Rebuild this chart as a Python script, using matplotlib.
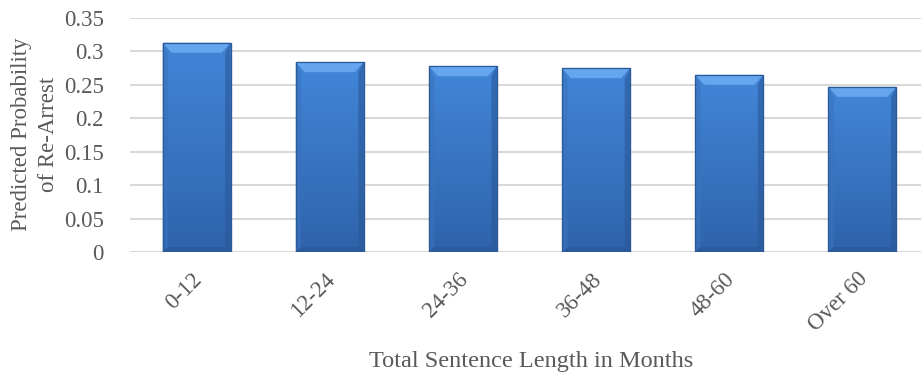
import numpy as np
import matplotlib
matplotlib.use("Agg")
import matplotlib.pyplot as plt
import matplotlib.transforms as mtransforms
from matplotlib.patches import Polygon

# predicted probability of re-arrest by sentence length
categories = ["0-12", "12-24", "24-36", "36-48", "48-60", "Over 60"]
probs = [0.313, 0.284, 0.278, 0.275, 0.265, 0.247]
yticks = [0, 0.05, 0.1, 0.15, 0.2, 0.25, 0.3, 0.35]
ytick_labels = ["0", "0.05", "0.1", "0.15", "0.2", "0.25", "0.3", "0.35"]

txt_color = "#595959"
plt.rcParams["font.family"] = ["Liberation Serif", "DejaVu Serif"]

fig = plt.figure(figsize=(9.21, 3.79), dpi=100)
W, H = 921, 379
ax = fig.add_axes([130 / W, (H - 252) / H, (929 - 130) / W, (252 - 18) / H])

x = np.arange(len(categories))
bars = ax.bar(x, probs, width=0.51, color="#3a78c8", edgecolor="#2b5a96",
              linewidth=0.8, zorder=3)

ax.set_xlim(-0.5, len(categories) - 0.5)
ax.set_ylim(0, 0.35)

# bevel sizes in data units
px_x = (929 - 130) / len(categories)
px_y = (252 - 18) / 0.35
bx = 9 / px_x
by = 10 / px_y
top_c = np.array([0x42, 0x86, 0xd8]) / 255
bot_c = np.array([0x2f, 0x63, 0xab]) / 255
for b in bars:
    x0, w, h = b.get_x(), b.get_width(), b.get_height()
    t = np.linspace(0, 1, 80)[:, None]
    body = bot_c + (top_c - bot_c) * t
    body = body[:, None, :] * np.ones((1, 2, 1))
    im = ax.imshow(body, extent=(x0, x0 + w, 0, h), aspect="auto",
                   zorder=3.1, origin="lower")
    im.set_clip_path(b)
    top = Polygon([(x0, h), (x0 + w, h), (x0 + w - bx, h - by), (x0 + bx, h - by)],
                  closed=True, facecolor="#66a6ee", edgecolor="none", zorder=3.3)
    left = Polygon([(x0, h), (x0 + bx * 0.6, h - by), (x0 + bx * 0.6, by * 0.5), (x0, 0)],
                   closed=True, facecolor="#3a73bd", edgecolor="none", alpha=0.6, zorder=3.2)
    right = Polygon([(x0 + w, h), (x0 + w - bx * 0.6, h - by), (x0 + w - bx * 0.6, by * 0.5), (x0 + w, 0)],
                    closed=True, facecolor="#2a5898", edgecolor="none", alpha=0.6, zorder=3.2)
    bottom = Polygon([(x0, 0), (x0 + bx * 0.6, by * 0.5), (x0 + w - bx * 0.6, by * 0.5), (x0 + w, 0)],
                     closed=True, facecolor="#2a5898", edgecolor="none", alpha=0.7, zorder=3.2)
    for p in (top, left, right, bottom):
        ax.add_patch(p)
    ax.add_patch(plt.Rectangle((x0, 0), w, h, fill=False, edgecolor="#2b5a96",
                               linewidth=0.9, zorder=3.4))

ax.set_yticks(yticks)
ax.set_yticklabels(ytick_labels)
ax.set_xticks(x)
ax.set_xticklabels(categories, rotation=45, ha="right", va="top",
                   rotation_mode="anchor")
ax.tick_params(axis="both", length=0, labelsize=16.5, colors=txt_color)
ax.tick_params(axis="x", pad=12)
ax.tick_params(axis="y", pad=19)
shift = mtransforms.ScaledTranslation(-5 / 100, 0, fig.dpi_scale_trans)
for lab in ax.get_xticklabels():
    lab.set_transform(lab.get_transform() + shift)
ax.yaxis.grid(True, color="#d9d9d9", linewidth=1.5, zorder=0)
for s in ax.spines.values():
    s.set_visible(False)
ax.axhline(0, color="#d9d9d9", linewidth=1.5, zorder=2)

fig.text(35 / W, (H - 134) / H, "Predicted Probability\nof Re-Arrest", rotation=90,
         ha="center", va="center", ma="center", fontsize=16.5, color=txt_color,
         linespacing=1.35)
fig.text(531 / W, (H - 362) / H, "Total Sentence Length in Months", ha="center",
         va="center", fontsize=17.5, color=txt_color)

fig.savefig("out.png", dpi=100)
